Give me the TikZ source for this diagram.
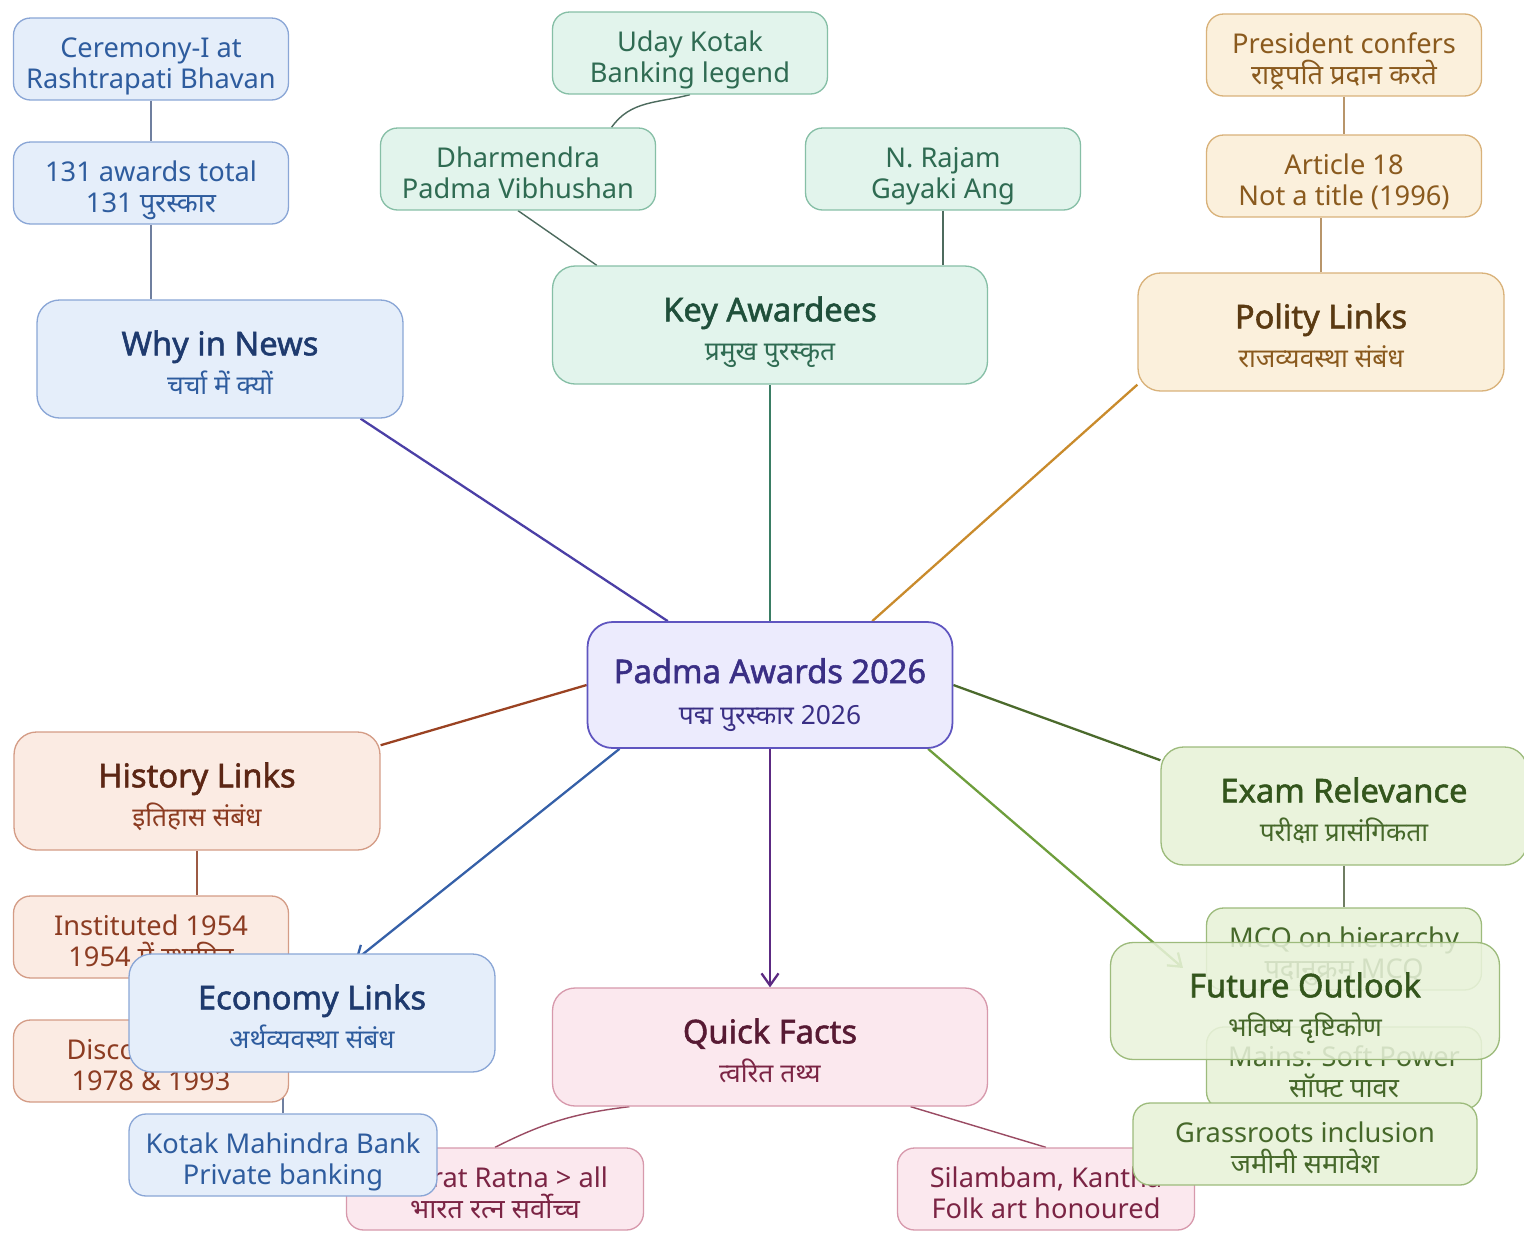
\documentclass[tikz,border=0pt]{standalone}
\usepackage{fontspec}
\setmainfont{Noto Sans}[AutoFakeBold=1.6]
\newfontfamily\hindi[Script=Devanagari]{Noto Sans}
\usepackage{tikz}
\usetikzlibrary{arrows.meta}
\pgfdeclarelayer{bg}
\pgfsetlayers{bg,main}
% branch colours: fill, border, title text, leaf text
\definecolor{newsfill}{RGB}{229,238,250}
\definecolor{newsline}{RGB}{138,166,214}
\definecolor{newstext}{RGB}{30,58,110}
\definecolor{newsleaf}{RGB}{46,92,158}
\definecolor{keyfill}{RGB}{226,244,236}
\definecolor{keyline}{RGB}{134,191,166}
\definecolor{keytext}{RGB}{31,79,58}
\definecolor{keyleaf}{RGB}{47,107,82}
\definecolor{polfill}{RGB}{251,240,220}
\definecolor{polline}{RGB}{217,178,122}
\definecolor{poltext}{RGB}{90,58,18}
\definecolor{polleaf}{RGB}{138,90,30}
\definecolor{hubfill}{RGB}{236,235,253}
\definecolor{hubline}{RGB}{95,85,192}
\definecolor{hubtext}{RGB}{58,47,133}
\definecolor{hisfill}{RGB}{251,235,227}
\definecolor{hisline}{RGB}{212,156,134}
\definecolor{histext}{RGB}{92,38,20}
\definecolor{hisleaf}{RGB}{140,60,34}
\definecolor{quifill}{RGB}{251,232,238}
\definecolor{quiline}{RGB}{215,153,172}
\definecolor{quitext}{RGB}{87,26,51}
\definecolor{quileaf}{RGB}{123,36,68}
\definecolor{exafill}{RGB}{234,243,220}
\definecolor{exaline}{RGB}{157,187,124}
\definecolor{exatext}{RGB}{51,85,28}
\definecolor{exaleaf}{RGB}{70,104,42}
\newcommand{\htitle}{\fontsize{18.6}{21}\selectfont\bfseries}
\newcommand{\bigfont}{\fontsize{15}{22.5}\selectfont}
\newcommand{\leaffont}{\fontsize{15.5}{17.8}\selectfont}

\begin{document}
\begin{tikzpicture}[x=0.02cm,y=-0.02cm,
    >={Straight Barb[length=2.4mm,width=3.4mm]},
    branch/.style={draw,rounded corners=0.45cm,line width=0.75pt,align=center,
      minimum width=7.32cm,minimum height=2.36cm,inner sep=2pt,font=\bigfont,
      text height=40.8pt,text depth=0pt},
    leafbox/.style={draw,rounded corners=0.34cm,line width=0.75pt,align=center,
      minimum width=5.5cm,minimum height=1.64cm,inner sep=2pt,font=\leaffont,
      text height=34pt,text depth=0pt},
    news/.style={fill=newsfill,draw=newsline,text=newsleaf},
    keyb/.style={fill=keyfill,draw=keyline,text=keyleaf},
    pol/.style={fill=polfill,draw=polline,text=polleaf},
    his/.style={fill=hisfill,draw=hisline,text=hisleaf},
    qui/.style={fill=quifill,draw=quiline,text=quileaf},
    exa/.style={fill=exafill,draw=exaline,text=exaleaf},
    mainedge/.style={line width=1.3pt},
    subedge/.style={line width=0.8pt}]
  \useasboundingbox (0,0) rectangle (1524,1241);

  % why in news
  \node[branch,news] (why) at (220,359) {\textcolor{newstext}{\htitle Why in News}\\\hindi चर्चा में क्यों};
  \node[leafbox,news] (ceremony) at (151,59) {Ceremony-I at\\Rashtrapati Bhavan};
  \node[leafbox,news] (awards) at (151,183) {131 awards total\\\hindi 131 पुरस्कार};

  % key awardees
  \node[branch,keyb,minimum width=8.7cm] (key) at (770,325) {\textcolor{keytext}{\htitle Key Awardees}\\\hindi प्रमुख पुरस्कृत};
  \node[leafbox,keyb] (dharm) at (518,169) {Dharmendra\\Padma Vibhushan};
  \node[leafbox,keyb] (uday) at (690,53) {Uday Kotak\\Banking legend};
  \node[leafbox,keyb] (rajam) at (943,169) {N. Rajam\\Gayaki Ang};

  % polity
  \node[branch,pol] (polity) at (1321,332) {\textcolor{poltext}{\htitle Polity Links}\\\hindi राजव्यवस्था संबंध};
  \node[leafbox,pol] (president) at (1344,55) {President confers\\\hindi राष्ट्रपति प्रदान करते};
  \node[leafbox,pol] (article) at (1344,176) {Article 18\\Not a title (1996)};

  % centre
  \node[draw=hubline,fill=hubfill,text=hubtext,rounded corners=0.5cm,line width=1pt,align=center,
    minimum width=7.3cm,minimum height=2.52cm,font=\bigfont,
    text height=45.4pt,text depth=0pt] (hub) at (770,685)
    {{\htitle Padma Awards 2026}\\[1.3pt]\hindi पद्म पुरस्कार 2026};

  % history
  \node[branch,his] (history) at (197,791) {\textcolor{histext}{\htitle History Links}\\\hindi इतिहास संबंध};
  \node[leafbox,his] (inst) at (151,937) {Instituted 1954\\\hindi 1954 में स्थापित};
  \node[leafbox,his] (disc) at (151,1061) {Discontinued\\1978 \& 1993};

  % quick facts
  \node[branch,qui,minimum width=8.7cm] (quick) at (770,1047) {\textcolor{quitext}{\htitle Quick Facts}\\\hindi त्वरित तथ्य};
  \node[leafbox,qui,minimum width=5.94cm] (bharat) at (495,1189) {Bharat Ratna > all\\\hindi भारत रत्न सर्वोच्च};
  \node[leafbox,qui,minimum width=5.94cm] (silambam) at (1046,1189) {Silambam, Kantha\\Folk art honoured};

  % exam relevance
  \node[branch,exa] (exam) at (1344,806) {\textcolor{exatext}{\htitle Exam Relevance}\\\hindi परीक्षा प्रासंगिकता};
  \node[leafbox,exa] (mcq) at (1344,949) {MCQ on hierarchy\\\hindi पदानुक्रम MCQ};
  \node[leafbox,exa] (mains) at (1344,1068) {Mains: Soft Power\\\hindi सॉफ्ट पावर};

  % economy
  \node[branch,news] (economy) at (312,1013) {\textcolor{newstext}{\htitle Economy Links}\\\hindi अर्थव्यवस्था संबंध};
  \node[leafbox,news,minimum width=6.16cm] (kotak) at (283,1155) {Kotak Mahindra Bank\\Private banking};

  % future outlook
  \node[branch,exa,minimum width=7.78cm,minimum height=2.34cm,fill opacity=0.86,text opacity=1] (future) at (1305,1001)
    {\textcolor{exatext}{\htitle Future Outlook}\\\hindi भविष्य दृष्टिकोण};
  \node[leafbox,exa,minimum width=6.88cm] (grass) at (1305,1144) {Grassroots inclusion\\\hindi जमीनी समावेश};
  \coordinate (futtip) at (1183,968);

  \begin{pgfonlayer}{bg}
    \fill[white] (0,0) rectangle (1524,1241);
    % centre to branches
    \draw[mainedge,color={rgb,255:red,75;green,63;blue,166}] (hub.148) -- (why.337);
    \draw[mainedge,color={rgb,255:red,58;green,125;blue,100}] (hub.north) -- (key.south);
    \draw[mainedge,color={rgb,255:red,201;green,139;blue,44}] (hub.32) -- (polity.196);
    \draw[mainedge,color={rgb,255:red,154;green,66;blue,34}] (hub.west) -- (history.14);
    \draw[mainedge,color={rgb,255:red,75;green,106;blue,44}] (hub.east) -- (exam.166);
    \draw[mainedge,->,shorten >=-2.2mm,color={rgb,255:red,53;green,96;blue,168}] (hub.203) -- (economy.49);
    \draw[mainedge,->,color={rgb,255:red,92;green,42;blue,130}] (hub.south) -- (quick.north);
    \draw[mainedge,->,color={rgb,255:red,110;green,158;blue,60}] (hub.338) -- (futtip);
    % branches to leaves
    \draw[subedge,color={rgb,255:red,111;green,127;blue,159}] (ceremony.south) -- (awards.north);
    \draw[subedge,color={rgb,255:red,111;green,127;blue,159}] (awards.south) -- (awards.south |- why.north);
    \draw[subedge,color={rgb,255:red,77;green,107;blue,94}] (dharm.south) -- (key.161);
    \draw[subedge,color={rgb,255:red,77;green,107;blue,94}] (uday.south) to[out=195,in=55] (dharm.24);
    \draw[subedge,color={rgb,255:red,77;green,107;blue,94}] (rajam.south) -- (rajam.south |- key.north);
    \draw[subedge,color={rgb,255:red,184;green,149;blue,106}] (president.south) -- (article.north);
    \draw[subedge,color={rgb,255:red,184;green,149;blue,106}] (polity.north) -- (polity.north |- article.south);
    \draw[subedge,color={rgb,255:red,156;green,90;blue,68}] (history.south) -- (history.south |- inst.north);
    \draw[subedge,color={rgb,255:red,111;green,127;blue,159}] (kotak.north) -- (kotak.north |- economy.south);
    \draw[subedge,color={rgb,255:red,154;green,75;blue,99}] (quick.203) to[bend right=10] (bharat.north);
    \draw[subedge,color={rgb,255:red,154;green,75;blue,99}] (quick.337) -- (silambam.north);
    \draw[subedge,color={rgb,255:red,111;green,125;blue,98}] (exam.south) -- (exam.south |- mcq.north);
  \end{pgfonlayer}
\end{tikzpicture}
\end{document}
